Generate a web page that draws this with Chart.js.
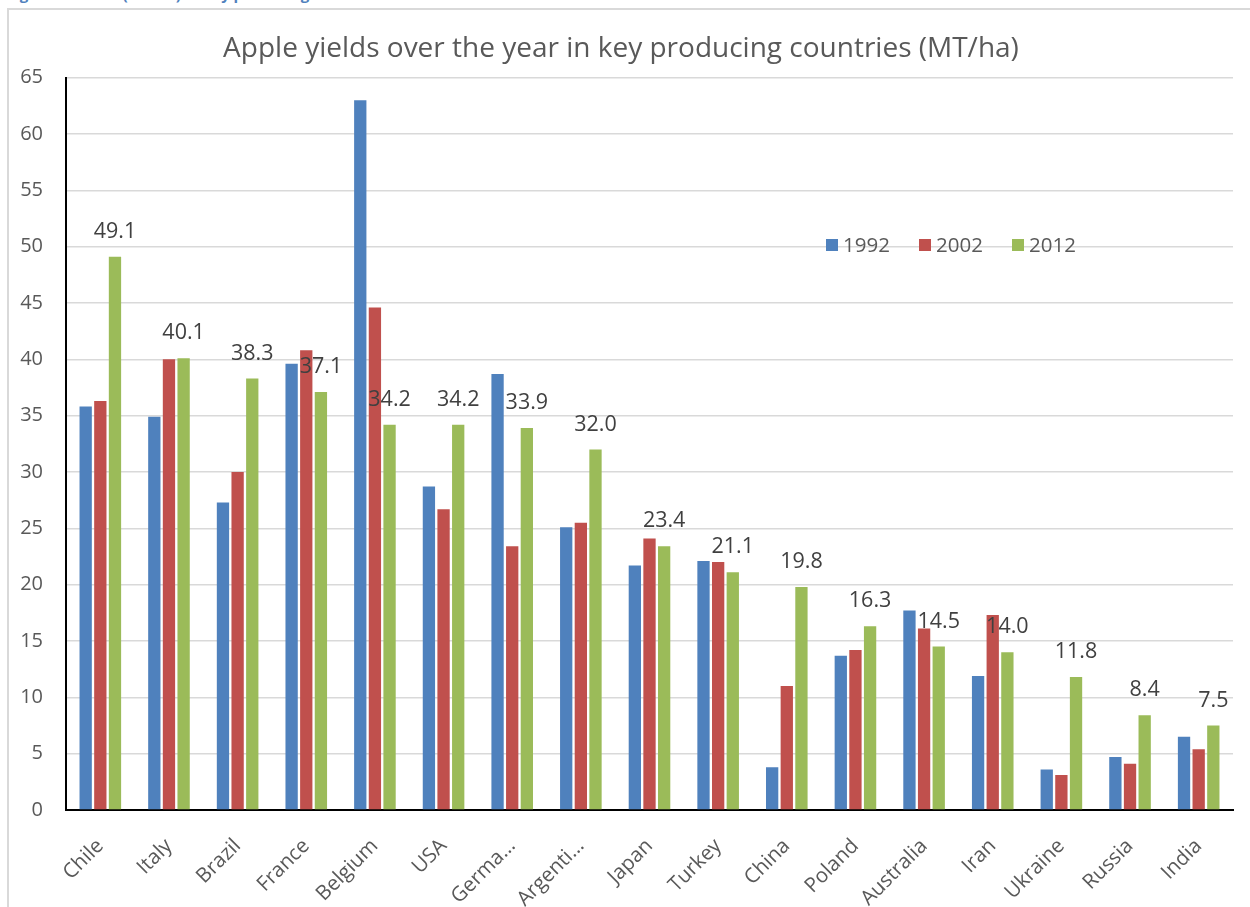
<!DOCTYPE html>
<html>
<head>
<meta charset="utf-8">
<script src="https://cdn.jsdelivr.net/npm/chart.js@4"></script>
<style>
  body { margin: 0; background: #fff; overflow: hidden; }
  #caption {
    position: absolute; left: 7px; top: -13px;
    font: bold 15px "Open Sans", sans-serif; color: #4f81bd;
    line-height: 15px; white-space: nowrap;
  }
  #frame {
    position: absolute; left: 7px; top: 8px; width: 1243px; height: 899px;
    border-left: 2px solid #d9d9d9; border-top: 2px solid #d9d9d9;
  }
  #wrap { position: absolute; left: 0; top: 0; width: 1241px; height: 897px; }
</style>
</head>
<body>
<div id="caption">Figure 6: Yields (MT/ha) in key producing countries</div>
<div id="frame"><div id="wrap"><canvas id="yieldChart"></canvas></div></div>
<script>
var countries = ['Chile', 'Italy', 'Brazil', 'France', 'Belgium', 'USA', 'Germa…', 'Argenti…', 'Japan',
    'Turkey', 'China', 'Poland', 'Australia', 'Iran', 'Ukraine', 'Russia', 'India'];
var years = ['1992', '2002', '2012'];
var yield1992 = [35.8, 34.9, 27.3, 39.6, 63.0, 28.7, 38.7, 25.1, 21.7, 22.1, 3.8, 13.7, 17.7, 11.9, 3.6, 4.7, 6.5];
var yield2002 = [36.3, 40.0, 30.0, 40.8, 44.6, 26.7, 23.4, 25.5, 24.1, 22.0, 11.0, 14.2, 16.1, 17.3, 3.1, 4.1, 5.4];
var yield2012 = [49.1, 40.1, 38.3, 37.1, 34.2, 34.2, 33.9, 32.0, 23.4, 21.1, 19.8, 16.3, 14.5, 14.0, 11.8, 8.4, 7.5];
var colors = ['#4f81bd', '#c0504d', '#9bbb59'];

var textColor = '#595959';
var fontFamily = '"Open Sans", sans-serif';

// value labels above the 2012 bars
var valueLabels = {
    id: 'valueLabels',
    afterDatasetsDraw: function (chart) {
        var ctx = chart.ctx;
        var meta = chart.getDatasetMeta(2);
        var data = chart.data.datasets[2].data;
        ctx.save();
        ctx.font = '21.5px ' + fontFamily;
        ctx.fillStyle = '#404040';
        ctx.textAlign = 'center';
        ctx.textBaseline = 'middle';
        meta.data.forEach(function (bar, i) {
            ctx.fillText(data[i].toFixed(1), bar.x, bar.y - 25);
        });
        ctx.restore();
    }
};

// legend drawn inside the plot area
var innerLegend = {
    id: 'innerLegend',
    afterDraw: function (chart) {
        var ctx = chart.ctx;
        var x = chart.chartArea.left + 760;
        var y = 235;
        ctx.save();
        ctx.font = '20.5px ' + fontFamily;
        ctx.textBaseline = 'middle';
        chart.data.datasets.forEach(function (ds) {
            ctx.fillStyle = ds.backgroundColor;
            ctx.fillRect(x, y - 6, 12, 12);
            ctx.fillStyle = textColor;
            ctx.fillText(ds.label, x + 17, y + 1);
            x += 93;
        });
        ctx.restore();
    }
};

new Chart('yieldChart', {
    type: 'bar',
    data: {
        labels: countries,
        datasets: [
            { label: years[0], data: yield1992, backgroundColor: colors[0] },
            { label: years[1], data: yield2002, backgroundColor: colors[1] },
            { label: years[2], data: yield2012, backgroundColor: colors[2] }
        ]
    },
    options: {
        responsive: true,
        maintainAspectRatio: false,
        animation: false,
        datasets: {
            bar: { categoryPercentage: 0.64, barPercentage: 0.84 }
        },
        layout: { padding: { right: 17, top: 0, bottom: 0, left: 0 } },
        scales: {
            x: {
                grid: { display: false, drawTicks: false },
                border: { color: '#000', width: 2 },
                ticks: {
                    color: textColor, font: { family: fontFamily, size: 20.5 },
                    minRotation: 45, maxRotation: 45, autoSkip: false, padding: 24
                },
                afterFit: function (scale) { scale.height = 97; }
            },
            y: {
                min: 0, max: 65,
                grid: { color: '#d9d9d9', lineWidth: 1.5, drawTicks: false },
                border: { color: '#000', width: 2 },
                ticks: {
                    stepSize: 5, color: textColor,
                    font: { family: fontFamily, size: 20 }, padding: 23
                },
                afterFit: function (scale) { scale.width = 57; }
            }
        },
        plugins: {
            legend: { display: false },
            tooltip: { enabled: false },
            title: {
                display: true,
                text: 'Apple yields over the year in key producing countries (MT/ha)',
                color: textColor,
                font: { family: fontFamily, size: 28, weight: 'normal' },
                padding: { top: 22, bottom: 12 }
            }
        }
    },
    plugins: [valueLabels, innerLegend]
});
</script>
</body>
</html>
